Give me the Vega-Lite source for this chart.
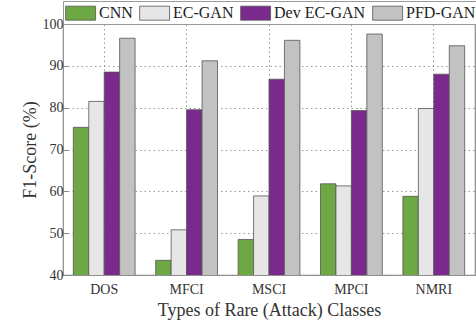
{
  "$schema": "https://vega.github.io/schema/vega-lite/v6.json",
  "autosize": "none",
  "padding": {"left": 63, "top": 24, "right": 1, "bottom": 51},
  "width": 412,
  "height": 251,
  "background": "white",
  "config": {
    "font": "Liberation Serif",
    "view": {"stroke": "#8a8a8a", "strokeWidth": 1.2}
  },
  "data": {
    "values": [
      {"cls": "DOS", "model": "CNN", "f1": 75.3},
      {"cls": "DOS", "model": "EC-GAN", "f1": 81.5},
      {"cls": "DOS", "model": "Dev EC-GAN", "f1": 88.5},
      {"cls": "DOS", "model": "PFD-GAN", "f1": 96.6},
      {"cls": "MFCI", "model": "CNN", "f1": 43.5},
      {"cls": "MFCI", "model": "EC-GAN", "f1": 50.8},
      {"cls": "MFCI", "model": "Dev EC-GAN", "f1": 79.5},
      {"cls": "MFCI", "model": "PFD-GAN", "f1": 91.2},
      {"cls": "MSCI", "model": "CNN", "f1": 48.5},
      {"cls": "MSCI", "model": "EC-GAN", "f1": 58.9},
      {"cls": "MSCI", "model": "Dev EC-GAN", "f1": 86.8},
      {"cls": "MSCI", "model": "PFD-GAN", "f1": 96.1},
      {"cls": "MPCI", "model": "CNN", "f1": 61.8},
      {"cls": "MPCI", "model": "EC-GAN", "f1": 61.3},
      {"cls": "MPCI", "model": "Dev EC-GAN", "f1": 79.3},
      {"cls": "MPCI", "model": "PFD-GAN", "f1": 97.6},
      {"cls": "NMRI", "model": "CNN", "f1": 58.8},
      {"cls": "NMRI", "model": "EC-GAN", "f1": 79.8},
      {"cls": "NMRI", "model": "Dev EC-GAN", "f1": 88.0},
      {"cls": "NMRI", "model": "PFD-GAN", "f1": 94.8}
    ]
  },
  "mark": {"type": "bar", "stroke": "#555555", "strokeWidth": 0.8, "clip": true},
  "encoding": {
    "x": {
      "field": "cls", "type": "nominal", "sort": ["DOS", "MFCI", "MSCI", "MPCI", "NMRI"],
      "scale": {"paddingInner": 0.25, "paddingOuter": 0.125},
      "axis": {
        "title": "Types of Rare (Attack) Classes", "titleFont": "Liberation Serif", "titleFontSize": 18, "titleFontWeight": "normal", "titleColor": "#333", "titlePadding": 5,
        "labelAngle": 0, "labelFont": "Liberation Serif", "labelFontSize": 14, "labelColor": "#333", "labelPadding": 7,
        "ticks": false, "domain": false,
        "grid": true, "bandPosition": 0.5, "gridDash": [1.5, 3], "gridColor": "#999", "gridWidth": 1
      }
    },
    "xOffset": {"field": "model", "type": "nominal", "sort": ["CNN", "EC-GAN", "Dev EC-GAN", "PFD-GAN"], "scale": {"paddingInner": 0}},
    "y": {
      "field": "f1", "type": "quantitative",
      "scale": {"domain": [40, 100], "nice": false, "zero": false},
      "axis": {
        "title": "F1-Score (%)", "titleFont": "Liberation Serif", "titleFontSize": 18, "titleFontWeight": "normal", "titleColor": "#333", "titlePadding": 3,
        "values": [40, 50, 60, 70, 80, 90, 100], "labelFont": "Liberation Serif", "labelFontSize": 14, "labelColor": "#333", "labelPadding": 5,
        "ticks": true, "tickSize": -5, "tickColor": "#888", "tickWidth": 1, "domain": false,
        "grid": true, "gridDash": [1.5, 3], "gridColor": "#999", "gridWidth": 1
      }
    },
    "fill": {
      "field": "model", "type": "nominal", "sort": ["CNN", "EC-GAN", "Dev EC-GAN", "PFD-GAN"],
      "scale": {"range": ["#6ea845", "#e6e6e6", "#7a2a8c", "#c2c2c2"]},
      "legend": {
        "title": null, "orient": "none", "legendX": 0, "legendY": -23, "direction": "horizontal", "columns": 4,
        "symbolType": "M-1,-0.75H2.2V0.75H-1Z", "symbolSize": 350, "symbolStrokeColor": "#555", "symbolStrokeWidth": 0.8, "symbolOpacity": 1,
        "labelFont": "Liberation Serif", "labelFontSize": 16, "labelColor": "#222", "labelOffset": 14, "columnPadding": 5,
        "strokeColor": "#999", "fillColor": "white", "padding": 2
      }
    }
  }
}
